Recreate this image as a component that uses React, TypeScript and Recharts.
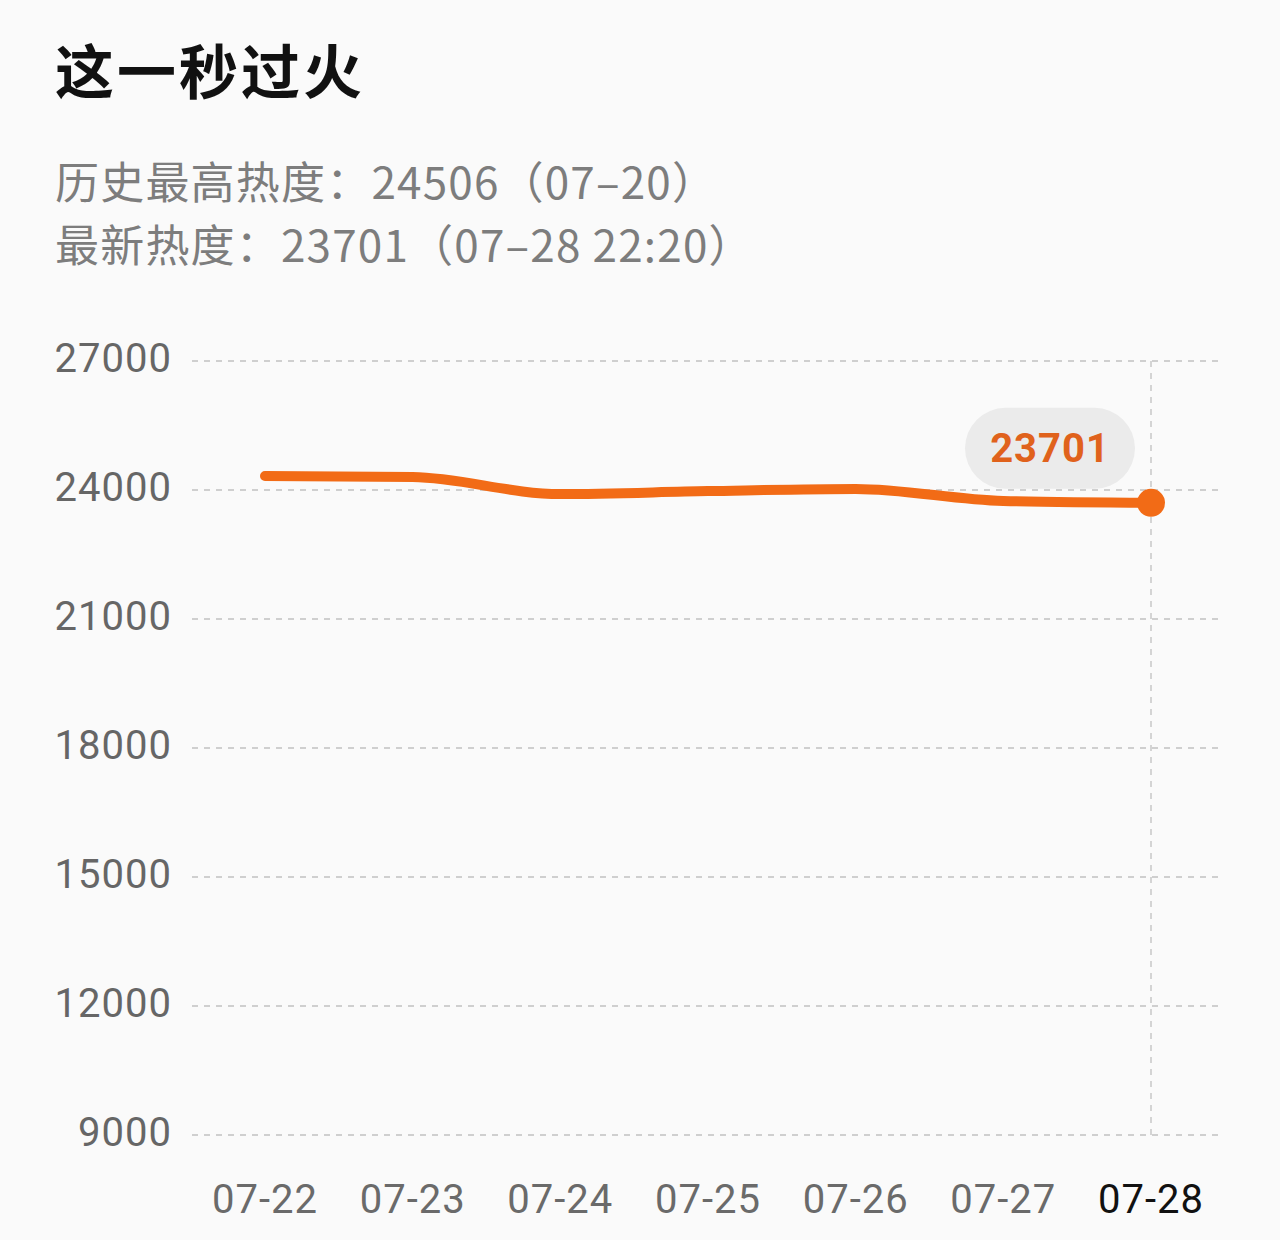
import React from 'react';
import { LineChart, Line, XAxis, YAxis, CartesianGrid, ReferenceLine } from 'recharts';

const title = '这一秒过火';
const peakLine = '历史最高热度：24506（07–20）';
const latestLine = '最新热度：23701（07–28 22:20）';

const dates = ['07-22', '07-23', '07-24', '07-25', '07-26', '07-27', '07-28'];
const heat = [24326, 24300, 23905, 23975, 24025, 23745, 23701];
const yTicks = [9000, 12000, 15000, 18000, 21000, 24000, 27000];
const latestLabel = '23701';

const data = dates.map((d, i) => ({ date: d, heat: heat[i] }));

const ORANGE = '#f26b16';
const NUM_FONT = 'Roboto, "Noto Sans", sans-serif';

const EndDot = (props: any) => {
  const { cx, cy, index } = props;
  if (index !== data.length - 1) return <g key={`d${index}`} />;
  return (
    <g key={`d${index}`}>
      <rect x={cx - 186} y={cy - 95} width={170} height={81} rx={40.5} ry={40.5} fill="#ebebeb" />
      <text
        x={cx - 101}
        y={cy - 54}
        textAnchor="middle"
        dominantBaseline="central"
        fontFamily={NUM_FONT}
        fontSize={40}
        fontWeight={700}
        fill="#e0621c"
        letterSpacing={1}
      >
        {latestLabel}
      </text>
      <circle cx={cx} cy={cy} r={14} fill={ORANGE} />
    </g>
  );
};

const XTick = (props: any) => {
  const { x, y, payload, index } = props;
  const last = index === dates.length - 1;
  return (
    <text
      x={x}
      y={y}
      dy="0.71em"
      textAnchor="middle"
      fontFamily={NUM_FONT}
      fontSize={40}
      fill={last ? '#111111' : '#6a6a6a'}
      letterSpacing={1}
    >
      {payload.value}
    </text>
  );
};

const YTick = (props: any) => {
  const { x, y, payload } = props;
  return (
    <text
      x={x + 2}
      y={y - 3}
      dy="0.355em"
      textAnchor="end"
      fontFamily={NUM_FONT}
      fontSize={40}
      fill="#666666"
      letterSpacing={1}
    >
      {payload.value}
    </text>
  );
};

export default function App() {
  return (
    <div
      style={{
        position: 'absolute',
        left: 0,
        top: 0,
        width: 1280,
        height: 1240,
        background: '#fafafa',
        overflow: 'hidden',
      }}
    >
      <div
        style={{
          position: 'absolute',
          left: 55,
          top: 33,
          fontFamily: '"Noto Sans CJK SC", sans-serif',
          fontWeight: 700,
          fontSize: 59,
          lineHeight: '72px',
          color: '#111111',
          letterSpacing: 3,
        }}
      >
        {title}
      </div>
      <div
        style={{
          position: 'absolute',
          left: 55,
          top: 149,
          fontFamily: '"Noto Sans CJK SC", sans-serif',
          fontSize: 44,
          lineHeight: '63px',
          color: '#7d7d7d',
          letterSpacing: 1.2,
        }}
      >
        <div>{peakLine}</div>
        <div>{latestLine}</div>
      </div>
      <div style={{ position: 'absolute', left: 0, top: 0 }}>
        <LineChart
          width={1280}
          height={1240}
          data={data}
          margin={{ top: 361, right: 60, bottom: 0, left: 0 }}
        >
          <CartesianGrid vertical={false} stroke="#cfcfcf" strokeWidth={2} strokeDasharray="6 6" />
          <XAxis
            dataKey="date"
            axisLine={false}
            tickLine={false}
            tickSize={0}
            tickMargin={50}
            height={105}
            interval={0}
            padding={{ left: 73, right: 69 }}
            tick={<XTick />}
          />
          <YAxis
            domain={[9000, 27000]}
            ticks={yTicks}
            interval={0}
            axisLine={false}
            tickLine={false}
            tickSize={0}
            tickMargin={22}
            width={192}
            tick={<YTick />}
          />
          <ReferenceLine x="07-28" stroke="#d4d4d4" strokeWidth={2} strokeDasharray="6 6" />
          <Line
            type="monotone"
            dataKey="heat"
            stroke={ORANGE}
            strokeWidth={10}
            strokeLinecap="round"
            dot={EndDot}
            activeDot={false}
            isAnimationActive={false}
          />
        </LineChart>
      </div>
    </div>
  );
}
